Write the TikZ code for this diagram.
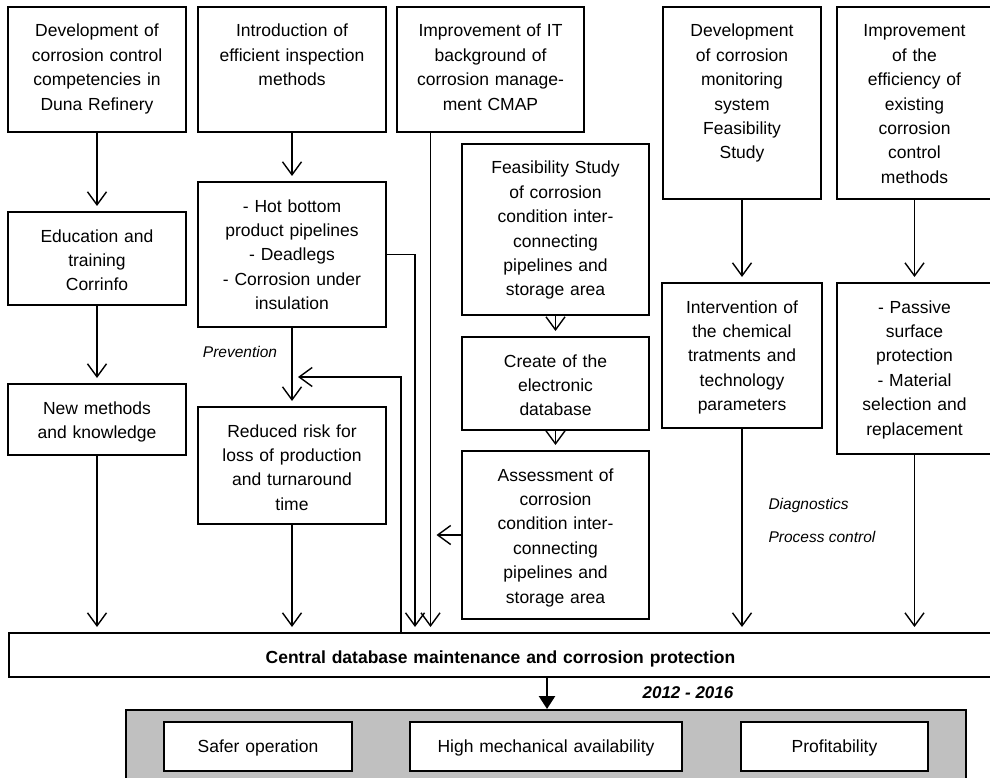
\documentclass[tikz,border=0pt]{standalone}
\usepackage{fontspec}
\setmainfont{Liberation Sans}
\usetikzlibrary{arrows.meta}
\definecolor{panelgray}{RGB}{192,192,192}
\tikzset{
  box/.style={draw, line width=1.6pt, fill=white, align=center, anchor=north,
    inner xsep=3pt, inner ysep=0pt, outer sep=0pt, text height=30pt,
    font=\fontsize{17.5}{24.4}\selectfont},
  link/.style={line width=1.4pt, -{Straight Barb[length=13pt,width=19pt]}, shorten >=6pt},
  bigarrow/.style={line width=2.6pt, -{Triangle[length=13pt,width=16pt]}, shorten >=1pt},
  note/.style={font=\fontsize{15.5}{18}\selectfont\itshape},
}
\begin{document}
\begin{tikzpicture}[x=1pt,y=-1pt]
\useasboundingbox (0,0) rectangle (990,778);
\node[box, text width=172pt, text depth=95pt] (dev) at (97,7) {Development of\\corrosion control\\competencies in\\Duna Refinery};
\node[box, text width=182pt, text depth=95pt] (insp) at (292,7) {Introduction of\\efficient inspection\\methods};
\node[box, text width=181pt, text depth=95pt] (itbg) at (490.5,7) {Improvement of IT\\background of\\corrosion manage-\\ment CMAP};
\node[box, text width=152pt, text depth=162pt] (monit) at (742,7) {Development\\of corrosion\\monitoring\\system\\Feasibility\\Study};
\node[box, text width=149pt, text depth=162pt] (effic) at (914.5,7) {Improvement\\of the\\efficiency of\\existing\\corrosion\\control\\methods};
\node[box, text width=172pt, text depth=63pt] (edu) at (97,212) {Education and\\training\\Corrinfo};
\node[box, text width=172pt, text depth=41pt] (newm) at (97,384) {New methods\\and knowledge};
\node[box, text width=182pt, text depth=115pt] (hotb) at (292,182) {- Hot bottom\\product pipelines\\- Deadlegs\\- Corrosion under\\insulation};
\node[box, text width=182pt, text depth=87pt] (redrisk) at (292,407) {Reduced risk for\\loss of production\\and turnaround\\time};
\node[box, text width=181pt, text depth=141pt] (feas) at (555.5,144) {Feasibility Study\\of corrosion\\condition inter-\\connecting\\pipelines and\\storage area};
\node[box, text width=181pt, text depth=63pt] (create) at (555.5,337) {Create of the\\electronic\\database};
\node[box, text width=181pt, text depth=138pt] (assess) at (555.5,451) {Assessment of\\corrosion\\condition inter-\\connecting\\pipelines and\\storage area};
\node[box, text width=154pt, text depth=115pt] (interv) at (742,283) {Intervention of\\the chemical\\tratments and\\technology\\parameters};
\node[box, text width=149pt, text depth=141pt] (passive) at (914.5,283) {- Passive\\surface\\protection\\- Material\\selection and\\replacement};
\node[box, text width=977pt, text depth=14pt, font=\fontsize{17.5}{24.4}\selectfont\bfseries] (central) at (500.5,633) {Central database maintenance and corrosion protection};
\node[box, fill=panelgray, text width=834pt, text depth=40pt] (results) at (546,710) {};
\node[box, text width=182pt, text depth=19pt] (safer) at (258,722) {Safer operation};
\node[box, text width=266pt, text depth=19pt] (highav) at (546,722) {High mechanical availability};
\node[box, text width=181pt, text depth=19pt] (profit) at (834.5,722) {Profitability};
\node[note] (prev) at (240,352) {Prevention};
\node[note, anchor=west] (diag) at (765,505) {Diagnostics};
\node[note, anchor=west] (proc) at (765,537) {Process control};
\node[font=\fontsize{17}{20}\selectfont\bfseries\itshape] (period) at (688,693) {2012 - 2016};
\coordinate (itfoot) at ([xshift=-60pt]itbg.south);
\coordinate (hbturn) at (415,0);
\coordinate (fbx) at (401,0);
\coordinate (fby) at (0,377);
\coordinate (resx) at (547,0);
\draw[link] (dev) -- (edu);
\draw[link] (edu) -- (newm);
\draw[link] (newm) -- (newm |- central.north);
\draw[link] (insp) -- (hotb);
\draw[link] (hotb) -- (redrisk);
\draw[link] (redrisk) -- (redrisk |- central.north);
\draw[link] (hotb.east) -| (hbturn |- central.north);
\draw[link] (itfoot) -- (itfoot |- central.north);
\draw[link] (central.north -| fbx) |- (hotb.south |- fby);
\draw[link] (feas) -- (create);
\draw[link] (create) -- (assess);
\draw[link] (assess.west) -- (assess.west -| itfoot);
\draw[link] (monit) -- (interv);
\draw[link] (effic) -- (passive);
\draw[link] (interv) -- (interv |- central.north);
\draw[link] (passive) -- (passive |- central.north);
\draw[bigarrow] (central.south -| resx) -- (results.north -| resx);
\end{tikzpicture}
\end{document}
